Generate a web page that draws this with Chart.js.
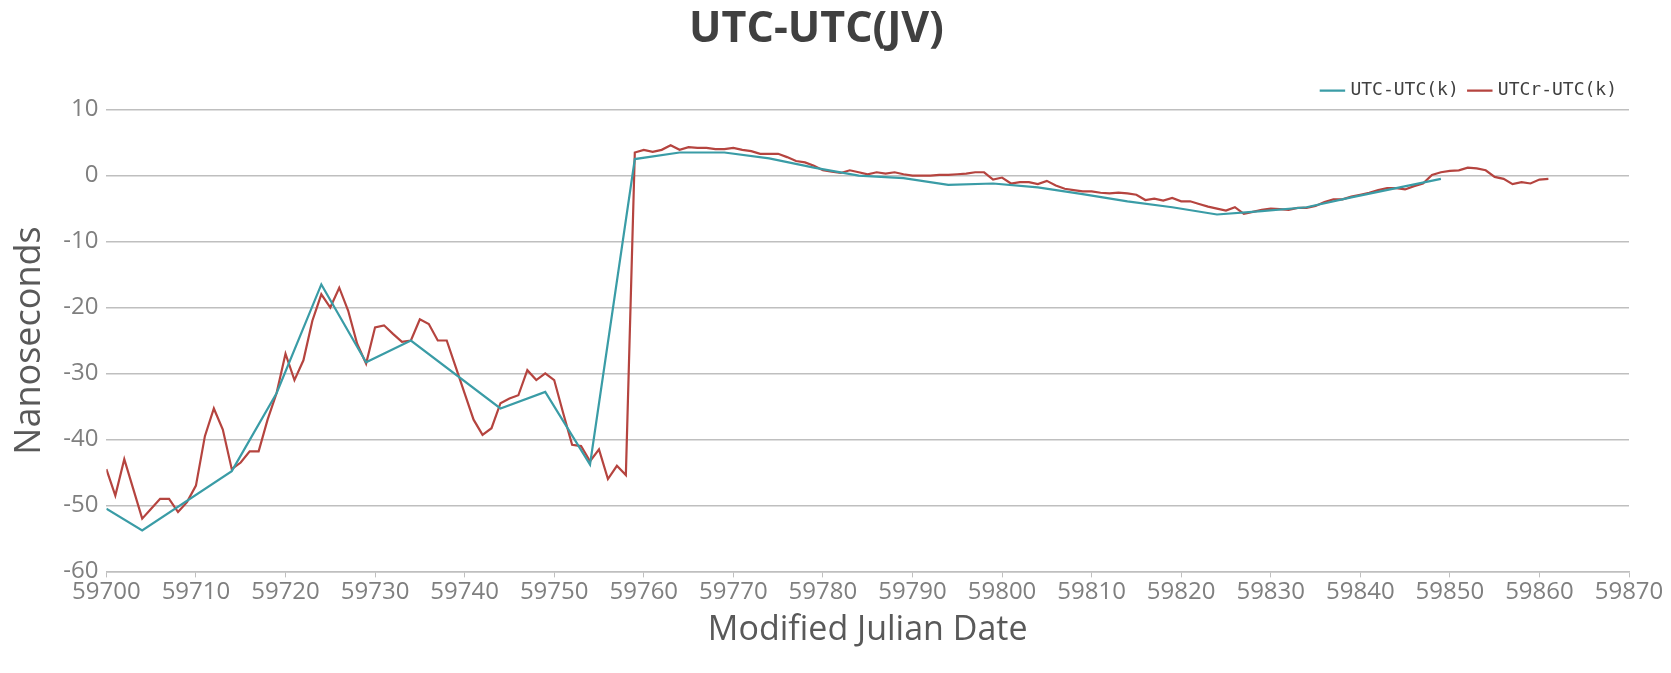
<!DOCTYPE html>
<html>
<head>
<meta charset="utf-8">
<script src="https://cdn.jsdelivr.net/npm/chart.js@4"></script>
<style>
  html, body { margin: 0; padding: 0; background: #fff; }
  #wrap { width: 1671px; height: 673px; }
</style>
</head>
<body>
<div id="wrap"><canvas id="c"></canvas></div>
<script>
// UTC-UTC(k): sparse 5-day points
const utcDays = [59700, 59704, 59714, 59719, 59724, 59729, 59734, 59744, 59749, 59754, 59759, 59764, 59769, 59774, 59779, 59784, 59789, 59794, 59799, 59804, 59809, 59814, 59819, 59824, 59829, 59834, 59839, 59844, 59849];
const utcVals = [-50.5, -53.8, -44.8, -33, -16.5, -28.3, -25, -35.3, -32.8, -43.8, 2.5, 3.5, 3.5, 2.6, 1.2, 0, -0.4, -1.4, -1.2, -1.8, -2.8, -3.9, -4.8, -5.9, -5.4, -4.8, -3.3, -1.9, -0.5];

// UTCr-UTC(k): daily from 59700
const utcrStart = 59700;
const utcrVals = [
  -44.5, -48.5, -43, -47.5, -52, -50.5, -49, -49, -51, -49.5,
  -47, -39.5, -35.3, -38.5, -44.5, -43.5, -41.8, -41.8, -37, -33,
  -27, -31, -28, -22, -18, -20, -17, -20.5, -25.5, -28.5,
  -23, -22.7, -24, -25.2, -25, -21.8, -22.5, -25, -25, -29,
  -33, -37, -39.3, -38.3, -34.5, -33.8, -33.3, -29.5, -31, -30,
  -31, -36, -40.8, -41, -43.3, -41.5, -46, -44, -45.4, 3.5,
  3.9, 3.6, 3.9, 4.6, 3.9, 4.3, 4.2, 4.2, 4.0, 4.0,
  4.2, 3.9, 3.7, 3.3, 3.3, 3.3, 2.8, 2.2, 2.0, 1.5,
  0.8, 0.6, 0.4, 0.8, 0.5, 0.2, 0.5, 0.3, 0.5, 0.2,
  0, 0, 0, 0.1, 0.1, 0.2, 0.3, 0.5, 0.5, -0.6,
  -0.3, -1.2, -1.0, -1.0, -1.3, -0.8, -1.5, -2.0, -2.2, -2.4,
  -2.4, -2.6, -2.7, -2.6, -2.7, -2.9, -3.7, -3.5, -3.8, -3.4,
  -3.9, -3.9, -4.3, -4.7, -5.0, -5.3, -4.8, -5.8, -5.5, -5.2,
  -5.0, -5.1, -5.2, -4.9, -4.9, -4.6, -4.0, -3.6, -3.6, -3.2,
  -2.9, -2.6, -2.2, -1.9, -1.9, -2.1, -1.6, -1.2, 0.1, 0.5,
  0.7, 0.8, 1.2, 1.1, 0.8, -0.2, -0.5, -1.3, -1.0, -1.2,
  -0.6, -0.5
];

const FONT = "'Open Sans', 'Noto Sans', sans-serif";
const GREY = '#7f7f7f';

new Chart(document.getElementById('c'), {
  type: 'scatter',
  data: {
    datasets: [
      {
        label: 'UTC-UTC(k)',
        data: utcDays.map((d, i) => ({ x: d, y: utcVals[i] })),
        borderColor: '#3a9ca6', backgroundColor: '#3a9ca6',
        showLine: true, pointRadius: 0, borderWidth: 2.2, tension: 0,
      },
      {
        label: 'UTCr-UTC(k)',
        data: utcrVals.map((v, i) => ({ x: utcrStart + i, y: v })),
        borderColor: '#b5443f', backgroundColor: '#b5443f',
        showLine: true, pointRadius: 0, borderWidth: 2.2, tension: 0,
      },
    ],
  },
  options: {
    responsive: true,
    maintainAspectRatio: false,
    animation: false,
    layout: { padding: { left: 4, right: 42, top: 0, bottom: 18 } },
    plugins: {
      title: {
        display: true, text: 'UTC-UTC(JV)', color: '#404040',
        font: { family: FONT, size: 43, weight: 'bold' },
        padding: { top: 4, bottom: 14 },
      },
      legend: {
        position: 'top', align: 'end',
        labels: {
          usePointStyle: true, pointStyle: 'line', boxWidth: 26,
          color: '#404040', font: { family: "'DejaVu Sans Mono', monospace", size: 18 },
          padding: 12,
        },
      },
      tooltip: { enabled: false },
    },
    scales: {
      x: {
        type: 'linear', min: 59700, max: 59870,
        ticks: { stepSize: 10, color: GREY, font: { family: FONT, size: 24 }, padding: 0, callback: v => String(v) },
        grid: { drawOnChartArea: false, drawTicks: true, tickLength: 6, color: '#bfbfbf' },
        border: { color: '#bfbfbf', width: 1.5 },
        title: { display: true, text: 'Modified Julian Date', color: '#595959', font: { family: FONT, size: 34 }, padding: { top: 4 } },
      },
      y: {
        min: -60, max: 10,
        ticks: { stepSize: 10, color: GREY, font: { family: FONT, size: 24 }, padding: 8 },
        grid: { color: '#bfbfbf', lineWidth: 1.5, drawTicks: false },
        border: { display: false },
        title: { display: true, text: 'Nanoseconds', color: '#595959', font: { family: FONT, size: 36 }, padding: { bottom: 4 } },
      },
    },
  },
});
</script>
</body>
</html>
